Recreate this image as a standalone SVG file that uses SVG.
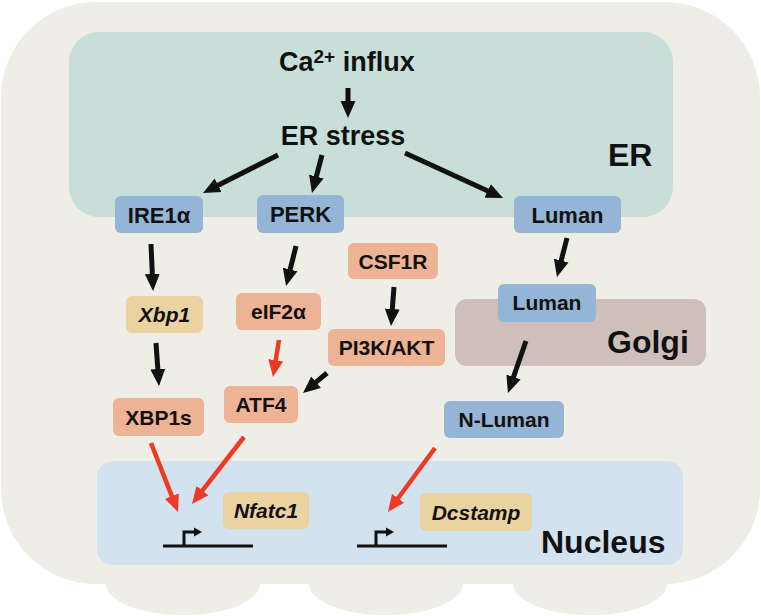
<svg xmlns="http://www.w3.org/2000/svg" width="761" height="616" viewBox="0 0 761 616">
<style>
text{font-family:"Liberation Sans",Arial,Helvetica,sans-serif;font-weight:bold;fill:#111;}
.n{font-size:21px;text-anchor:middle;}
.n22{font-size:22px;text-anchor:middle;}
.i{font-style:italic;}
.big{font-size:32px;}
.blue{fill:#94B5D5;}
.sal{fill:#EEB394;}
.tan{fill:#EAD3A1;}
.blk{stroke:#111;stroke-width:5;fill:none;marker-end:url(#ab);}
.red{stroke:#EE3A24;stroke-width:4.5;fill:none;marker-end:url(#ar);}
.prom{stroke:#111;stroke-width:3;fill:none;}
</style>
<defs>
<marker id="ab" markerUnits="userSpaceOnUse" viewBox="0 0 17 16" markerWidth="17" markerHeight="16" refX="4" refY="8" orient="auto"><path d="M0,0.5 L17,8 L0,15.5 z" fill="#111"/></marker>
<marker id="ar" markerUnits="userSpaceOnUse" viewBox="0 0 17 16" markerWidth="17" markerHeight="16" refX="4" refY="8" orient="auto"><path d="M0,0.5 L17,8 L0,15.5 z" fill="#EE3A24"/></marker>
</defs>
<g id="cell">
<ellipse cx="183" cy="584" rx="77" ry="31" fill="#EEEEE7"/>
<ellipse cx="386" cy="584" rx="77" ry="31" fill="#EEEEE7"/>
<ellipse cx="590" cy="584" rx="77" ry="31" fill="#EEEEE7"/>
<rect x="1" y="2" width="759" height="582" rx="95" ry="95" fill="#EEEEE7"/>
</g>
<g id="ER">
<rect x="69" y="32" width="604" height="185" rx="30" fill="#C8DED9"/>
<text x="608" y="166" class="big">ER</text>
</g>
<g id="Golgi">
<rect x="455" y="299" width="251" height="67" rx="12" fill="#CEBFBA"/>
<text x="607" y="353" class="big">Golgi</text>
</g>
<g id="Nucleus">
<rect x="97" y="461" width="586" height="104" rx="16" fill="#D3E2EF"/>
<text x="541" y="553" class="big">Nucleus</text>
</g>
<g id="ca-influx"><text x="279" y="71" font-size="27">Ca<tspan font-size="19" dy="-8">2+</tspan><tspan dy="8"> influx</tspan></text></g>
<g id="er-stress"><text x="343" y="145" font-size="27" text-anchor="middle">ER stress</text></g>
<g id="connectors">
<line class="blk" x1="348" y1="88" x2="348" y2="105"/>
<line class="blk" x1="278" y1="155" x2="214.6" y2="187.1"/>
<line class="blk" x1="322" y1="155" x2="315.3" y2="180.4"/>
<line class="blk" x1="405" y1="153" x2="491.2" y2="192.6"/>
<line class="blk" x1="151" y1="244" x2="152.5" y2="278"/>
<line class="blk" x1="156" y1="343" x2="158.1" y2="373"/>
<line class="blk" x1="296" y1="246" x2="289.2" y2="273.4"/>
<line class="blk" x1="394" y1="287" x2="392" y2="313"/>
<line class="blk" x1="327" y1="373" x2="313" y2="384.7"/>
<line class="blk" x1="567" y1="238" x2="560.2" y2="264.4"/>
<line class="blk" x1="526" y1="341" x2="512.2" y2="380.8"/>
<line class="red" x1="279" y1="340" x2="275.1" y2="364.2"/>
<line class="red" x1="151" y1="443" x2="173.3" y2="499.9"/>
<line class="red" x1="244" y1="437" x2="200" y2="493.7"/>
<line class="red" x1="435" y1="448" x2="395.7" y2="501.5"/>
</g>
<g id="promoter-nfatc1">
<path class="prom" d="M163,546 H253 M184,546 V532 H195"/>
<path d="M194,527.5 L202,532 L194,536.5 z" fill="#111"/>
</g>
<g id="promoter-dcstamp">
<path class="prom" d="M357,546 H447 M376,546 V532 H387"/>
<path d="M386,527.5 L394,532 L386,536.5 z" fill="#111"/>
</g>
<g id="IRE1a"><rect class="blue" x="115" y="196" width="88" height="37" rx="6"/><text class="n22" x="159" y="222.5">IRE1α</text></g>
<g id="PERK"><rect class="blue" x="257" y="195" width="87" height="38" rx="6"/><text class="n22" x="300.5" y="222">PERK</text></g>
<g id="Luman-ER"><rect class="blue" x="514" y="196" width="107" height="37" rx="6"/><text class="n22" x="567.5" y="222.5">Luman</text></g>
<g id="CSF1R"><rect class="sal" x="348" y="243" width="90" height="36" rx="6"/><text class="n" x="393" y="268.5">CSF1R</text></g>
<g id="Xbp1"><rect class="tan" x="126" y="296" width="77" height="37" rx="6"/><text class="n i" x="164.5" y="322">Xbp1</text></g>
<g id="eIF2a"><rect class="sal" x="236" y="293" width="85" height="37" rx="6"/><text class="n" x="278.5" y="319">eIF2α</text></g>
<g id="PI3K-AKT"><rect class="sal" x="328" y="329" width="117" height="37" rx="6"/><text class="n" x="386.5" y="355">PI3K/AKT</text></g>
<g id="ATF4"><rect class="sal" x="224" y="386" width="74" height="37" rx="6"/><text class="n" x="261" y="412">ATF4</text></g>
<g id="XBP1s"><rect class="sal" x="113" y="398" width="91" height="38" rx="6"/><text class="n" x="158.5" y="424.5">XBP1s</text></g>
<g id="Luman-Golgi"><rect class="blue" x="498" y="284" width="98" height="38" rx="6"/><text class="n" x="547" y="310" font-size="20">Luman</text></g>
<g id="N-Luman"><rect class="blue" x="444" y="401" width="120" height="37" rx="6"/><text class="n" x="504" y="427">N-Luman</text></g>
<g id="Nfatc1"><rect class="tan" x="223" y="492" width="86" height="37" rx="6"/><text class="n i" x="266" y="518">Nfatc1</text></g>
<g id="Dcstamp"><rect class="tan" x="420" y="493" width="112" height="38" rx="6"/><text class="n i" x="476" y="519.5">Dcstamp</text></g>
</svg>
